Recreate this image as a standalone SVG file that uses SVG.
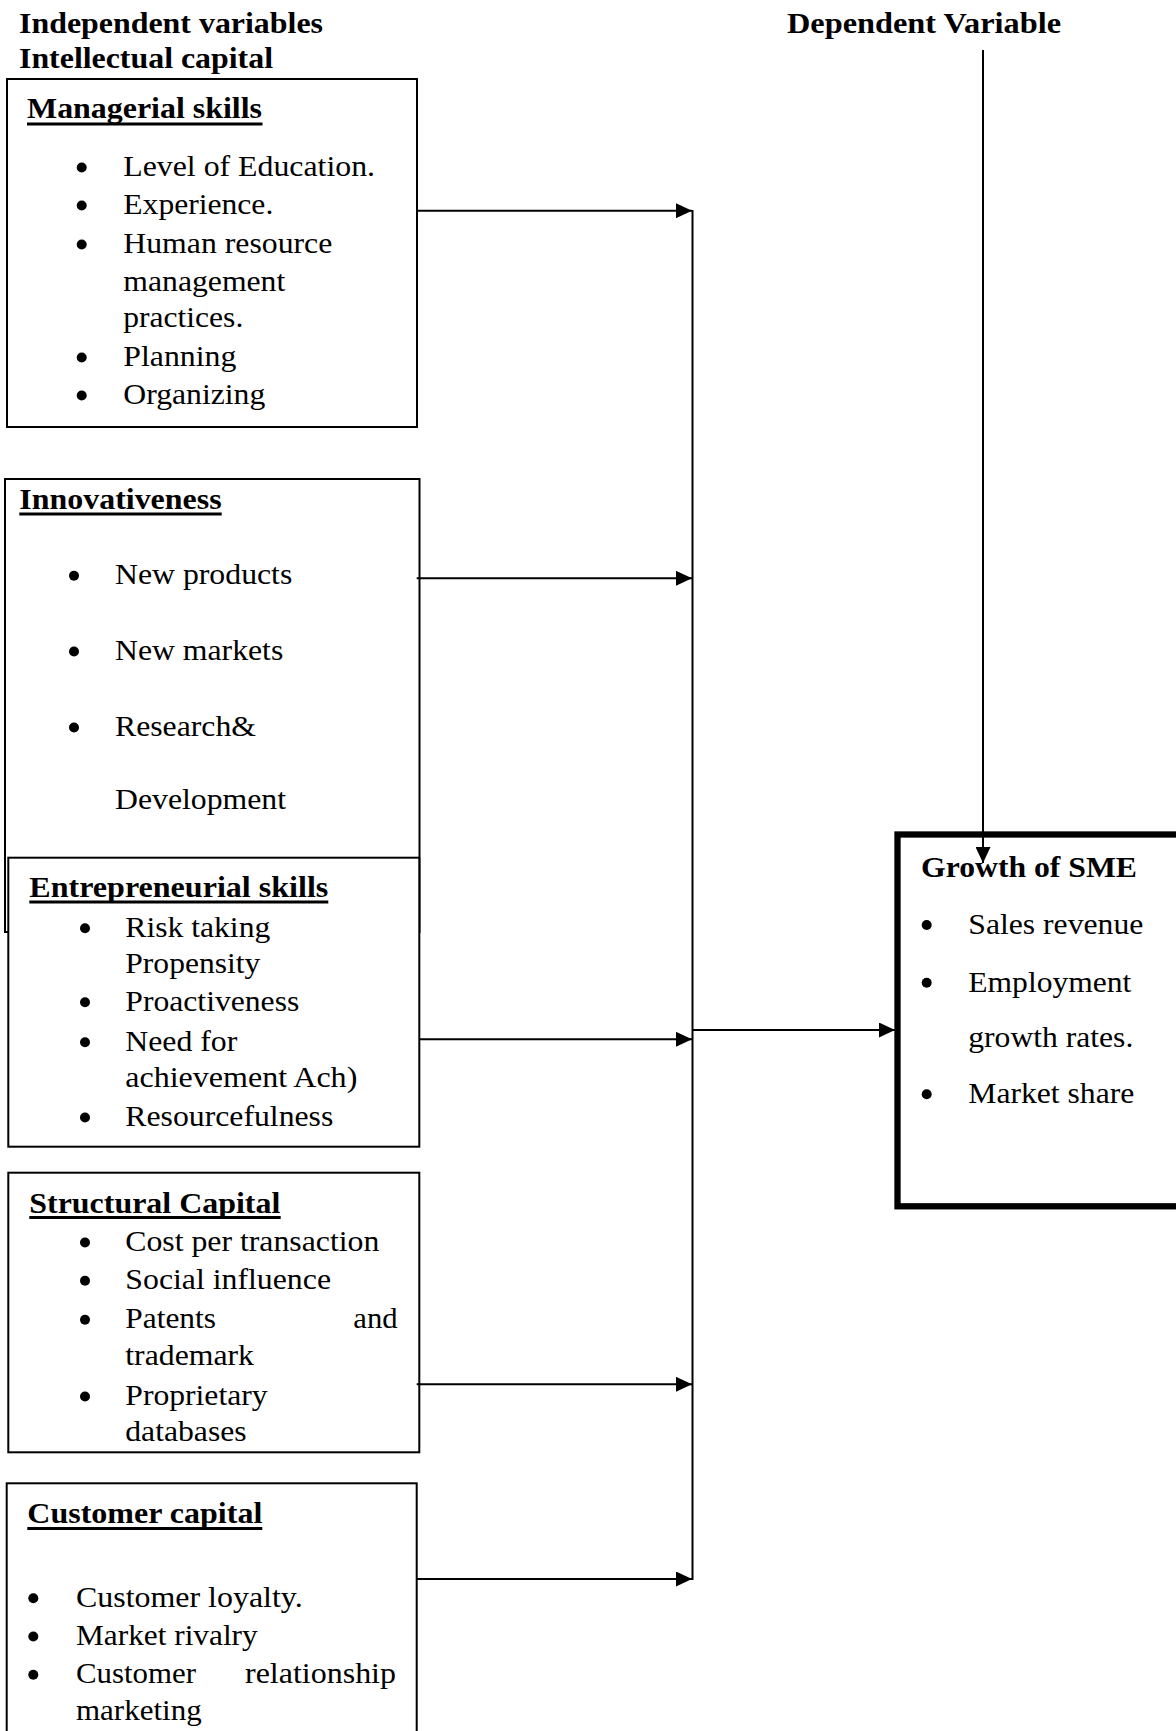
<svg xmlns="http://www.w3.org/2000/svg" width="1176" height="1731" viewBox="0 0 1176 1731">
<style>
text{font-family:'Liberation Serif','Times New Roman',serif;font-size:30px;fill:#000}
.b{font-weight:bold}
.box{fill:#fff;stroke:#000;stroke-width:2}
.ul{stroke:#000;stroke-width:3}
.dot{fill:#000}
.con{stroke:#000;stroke-width:2;fill:none}
</style>
<defs>
<marker id="ah" markerUnits="userSpaceOnUse" markerWidth="16" markerHeight="15" refX="16" refY="7.5" orient="auto">
<path d="M0,0 L16,7.5 L0,15 z" fill="#000"/>
</marker>
</defs>
<rect width="1176" height="1731" fill="#fff"/>

<g id="headers">
<text class="b" x="19" y="33" textLength="304" lengthAdjust="spacingAndGlyphs">Independent variables</text>
<text class="b" x="19" y="68" textLength="254" lengthAdjust="spacingAndGlyphs">Intellectual capital</text>
<text class="b" x="787" y="33" textLength="274" lengthAdjust="spacingAndGlyphs">Dependent Variable</text>
</g>

<g id="managerial">
<rect class="box" x="7" y="79" width="410" height="348"/>
<text class="b" x="27" y="118" textLength="235" lengthAdjust="spacingAndGlyphs">Managerial skills</text>
<line class="ul" x1="27" y1="124" x2="262.5" y2="124"/>
<circle class="dot" cx="81.7" cy="167.5" r="5"/>
<text x="123.3" y="176" textLength="251.7" lengthAdjust="spacingAndGlyphs">Level of Education.</text>
<circle class="dot" cx="81.7" cy="205.5" r="5"/>
<text x="123.3" y="214" textLength="150" lengthAdjust="spacingAndGlyphs">Experience.</text>
<circle class="dot" cx="81.7" cy="244.5" r="5"/>
<text x="123.3" y="253" textLength="209" lengthAdjust="spacingAndGlyphs">Human resource</text>
<text x="123.3" y="291" textLength="162" lengthAdjust="spacingAndGlyphs">management</text>
<text x="123.3" y="327" textLength="120" lengthAdjust="spacingAndGlyphs">practices.</text>
<circle class="dot" cx="81.7" cy="357.5" r="5"/>
<text x="123.3" y="366" textLength="113" lengthAdjust="spacingAndGlyphs">Planning</text>
<circle class="dot" cx="81.7" cy="395.5" r="5"/>
<text x="123.3" y="404" textLength="142" lengthAdjust="spacingAndGlyphs">Organizing</text>
</g>

<g id="innovativeness">
<rect class="box" x="5" y="479" width="414.5" height="453"/>
<text class="b" x="19.3" y="509" textLength="202.3" lengthAdjust="spacingAndGlyphs">Innovativeness</text>
<line class="ul" x1="19.3" y1="514" x2="221.7" y2="514"/>
<circle class="dot" cx="74" cy="575.8" r="5"/>
<text x="115" y="584.3" textLength="177.3" lengthAdjust="spacingAndGlyphs">New products</text>
<circle class="dot" cx="74" cy="651.5" r="5"/>
<text x="115" y="660" textLength="168.3" lengthAdjust="spacingAndGlyphs">New markets</text>
<circle class="dot" cx="74" cy="727.5" r="5"/>
<text x="115" y="736" textLength="141" lengthAdjust="spacingAndGlyphs">Research&amp;</text>
<text x="115" y="809.3" textLength="171" lengthAdjust="spacingAndGlyphs">Development</text>
</g>

<g id="entrepreneurial">
<rect class="box" x="8.3" y="857.7" width="411" height="289"/>
<text class="b" x="29.3" y="897.3" textLength="299" lengthAdjust="spacingAndGlyphs">Entrepreneurial skills</text>
<line class="ul" x1="29.3" y1="902" x2="328.3" y2="902"/>
<circle class="dot" cx="85" cy="928.2" r="5"/>
<text x="125.3" y="936.7" textLength="145" lengthAdjust="spacingAndGlyphs">Risk taking</text>
<text x="125.3" y="972.7" textLength="135" lengthAdjust="spacingAndGlyphs">Propensity</text>
<circle class="dot" cx="85" cy="1002.2" r="5"/>
<text x="125.3" y="1010.7" textLength="174" lengthAdjust="spacingAndGlyphs">Proactiveness</text>
<circle class="dot" cx="85" cy="1042.2" r="5"/>
<text x="125.3" y="1050.7" textLength="112" lengthAdjust="spacingAndGlyphs">Need for</text>
<text x="125.3" y="1087.3" textLength="232" lengthAdjust="spacingAndGlyphs">achievement Ach)</text>
<circle class="dot" cx="85" cy="1117.5" r="5"/>
<text x="125.3" y="1126" textLength="208" lengthAdjust="spacingAndGlyphs">Resourcefulness</text>
</g>

<g id="structural">
<rect class="box" x="8.3" y="1172.7" width="411" height="279.6"/>
<text class="b" x="29.3" y="1212.7" textLength="251" lengthAdjust="spacingAndGlyphs">Structural Capital</text>
<line class="ul" x1="29.3" y1="1217.5" x2="280.7" y2="1217.5"/>
<circle class="dot" cx="85" cy="1242.5" r="5"/>
<text x="125.3" y="1251" textLength="254" lengthAdjust="spacingAndGlyphs">Cost per transaction</text>
<circle class="dot" cx="85" cy="1280.8" r="5"/>
<text x="125.3" y="1289.3" textLength="205.7" lengthAdjust="spacingAndGlyphs">Social influence</text>
<circle class="dot" cx="85" cy="1319.8" r="5"/>
<text x="125.3" y="1328.3" textLength="90.7" lengthAdjust="spacingAndGlyphs">Patents</text>
<text x="353.3" y="1328.3" textLength="44.3" lengthAdjust="spacingAndGlyphs">and</text>
<text x="125.3" y="1365" textLength="128.7" lengthAdjust="spacingAndGlyphs">trademark</text>
<circle class="dot" cx="85" cy="1396.5" r="5"/>
<text x="125.3" y="1405" textLength="142.3" lengthAdjust="spacingAndGlyphs">Proprietary</text>
<text x="125.3" y="1441" textLength="121.3" lengthAdjust="spacingAndGlyphs">databases</text>
</g>

<g id="customer">
<rect class="box" x="6.7" y="1483.3" width="410" height="280"/>
<text class="b" x="27.3" y="1523.3" textLength="235" lengthAdjust="spacingAndGlyphs">Customer capital</text>
<line class="ul" x1="27.3" y1="1528.5" x2="262.3" y2="1528.5"/>
<circle class="dot" cx="33.3" cy="1598.2" r="5"/>
<text x="76" y="1606.7" textLength="226.7" lengthAdjust="spacingAndGlyphs">Customer loyalty.</text>
<circle class="dot" cx="33.3" cy="1636.5" r="5"/>
<text x="76" y="1645" textLength="181.7" lengthAdjust="spacingAndGlyphs">Market rivalry</text>
<circle class="dot" cx="33.3" cy="1674.8" r="5"/>
<text x="76" y="1683.3" textLength="120" lengthAdjust="spacingAndGlyphs">Customer</text>
<text x="245" y="1683.3" textLength="151" lengthAdjust="spacingAndGlyphs">relationship</text>
<text x="76" y="1720" textLength="125.7" lengthAdjust="spacingAndGlyphs">marketing</text>
</g>

<g id="growth">
<rect x="897.5" y="834.5" width="400" height="371.8" fill="#fff" stroke="#000" stroke-width="6.3"/>
<text class="b" x="921" y="876.7" textLength="216" lengthAdjust="spacingAndGlyphs">Growth of SME</text>
<circle class="dot" cx="926.7" cy="925" r="5"/>
<text x="968.3" y="934" textLength="175" lengthAdjust="spacingAndGlyphs">Sales revenue</text>
<circle class="dot" cx="926.7" cy="982.7" r="5"/>
<text x="968.3" y="991.7" textLength="163" lengthAdjust="spacingAndGlyphs">Employment</text>
<text x="968.3" y="1046.7" textLength="165" lengthAdjust="spacingAndGlyphs">growth rates.</text>
<circle class="dot" cx="926.7" cy="1094.3" r="5"/>
<text x="968.3" y="1103.3" textLength="166" lengthAdjust="spacingAndGlyphs">Market share</text>
</g>

<g id="connectors">
<line class="con" x1="692.5" y1="210" x2="692.5" y2="1580"/>
<line class="con" x1="417" y1="210.7" x2="692" y2="210.7" marker-end="url(#ah)"/>
<line class="con" x1="416.7" y1="578.3" x2="692" y2="578.3" marker-end="url(#ah)"/>
<line class="con" x1="419.3" y1="1039.3" x2="692" y2="1039.3" marker-end="url(#ah)"/>
<line class="con" x1="416.7" y1="1384.3" x2="692" y2="1384.3" marker-end="url(#ah)"/>
<line class="con" x1="416.7" y1="1579" x2="692" y2="1579" marker-end="url(#ah)"/>
<line class="con" x1="692.5" y1="1030" x2="895" y2="1030" marker-end="url(#ah)"/>
<line class="con" x1="983" y1="50" x2="983" y2="863" marker-end="url(#ah)"/>
</g>
</svg>
